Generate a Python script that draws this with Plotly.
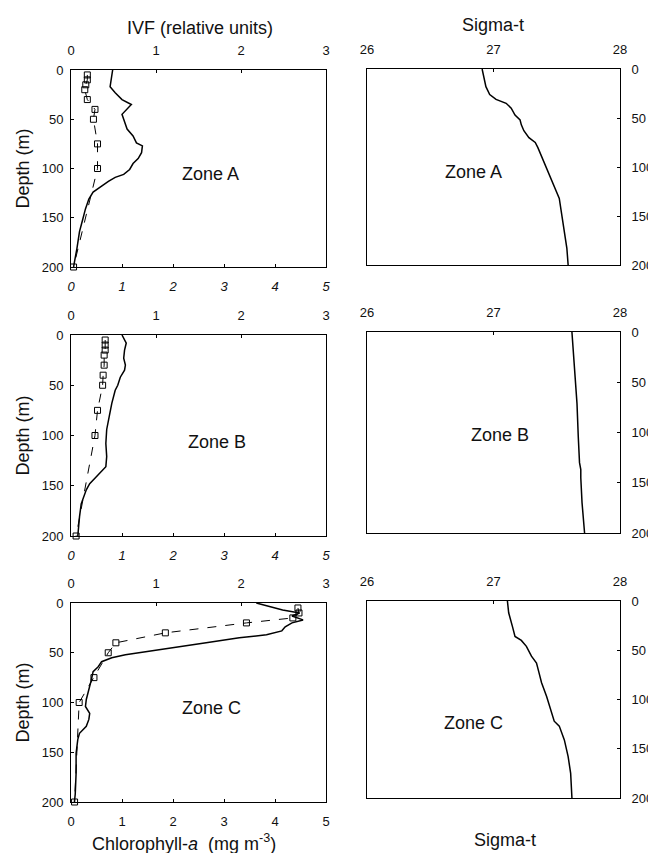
import plotly.graph_objects as go

# page is rendered with an 8px body margin; figure sized to reach the window edges
OFF = 8
W, H = 648, 845

# ---------------- data ----------------
# IVF profiles (relative units) vs depth (m)
ivf_a_depth = [0, 8, 17, 23, 30, 35, 40, 45, 50, 60, 67, 74, 77, 84, 90, 95, 101, 106, 109, 113, 118, 124, 131, 141, 151, 164, 181, 200]
ivf_a = [0.49, 0.48, 0.46, 0.52, 0.60, 0.71, 0.66, 0.60, 0.62, 0.66, 0.73, 0.77, 0.84, 0.83, 0.79, 0.73, 0.69, 0.62, 0.52, 0.44, 0.36, 0.26, 0.21, 0.17, 0.14, 0.10, 0.07, 0.03]

ivf_b_depth = [0, 8, 15, 23, 30, 35, 42, 50, 55, 61, 68, 81, 94, 108, 121, 131, 138, 148, 154, 168, 181, 194, 200]
ivf_b = [0.60, 0.65, 0.63, 0.62, 0.64, 0.63, 0.58, 0.55, 0.52, 0.50, 0.48, 0.45, 0.42, 0.41, 0.42, 0.41, 0.33, 0.22, 0.18, 0.12, 0.10, 0.09, 0.08]

ivf_c_depth = [0, 3, 7, 10, 13, 17, 20, 24, 28, 32, 35, 40, 45, 49, 52, 55, 59, 64, 69, 77, 87, 97, 104, 111, 117, 124, 131, 137, 151, 171, 192, 200]
ivf_c = [2.18, 2.30, 2.49, 2.69, 2.60, 2.73, 2.60, 2.52, 2.48, 2.30, 1.98, 1.59, 1.19, 0.91, 0.64, 0.48, 0.36, 0.32, 0.26, 0.24, 0.21, 0.18, 0.17, 0.22, 0.21, 0.18, 0.10, 0.08, 0.06, 0.06, 0.05, 0.04]

# Chlorophyll-a (mg m-3) at bottle depths
chl_depth = [5, 10, 15, 20, 30, 40, 50, 75, 100, 200]
chl_a = [0.32, 0.32, 0.29, 0.27, 0.32, 0.47, 0.44, 0.52, 0.52, 0.05]
chl_b = [0.67, 0.67, 0.67, 0.65, 0.65, 0.63, 0.62, 0.52, 0.47, 0.10]
chl_c = [4.45, 4.47, 4.35, 3.44, 1.85, 0.88, 0.73, 0.45, 0.16, 0.07]

# Sigma-t profiles
sig_a_depth = [0, 7, 18, 26, 31, 35, 40, 47, 52, 57, 63, 70, 75, 80, 92, 105, 119, 132, 149, 166, 183, 200]
sig_a = [26.91, 26.92, 26.94, 26.97, 27.02, 27.10, 27.14, 27.17, 27.21, 27.22, 27.24, 27.28, 27.33, 27.35, 27.39, 27.43, 27.48, 27.52, 27.54, 27.56, 27.58, 27.59]

sig_b_depth = [0, 38, 71, 104, 130, 137, 145, 170, 200]
sig_b = [27.62, 27.64, 27.66, 27.67, 27.68, 27.69, 27.69, 27.70, 27.72]

sig_c_depth = [0, 12, 26, 36, 40, 46, 56, 63, 73, 83, 97, 110, 122, 127, 141, 158, 175, 200]
sig_c = [27.11, 27.12, 27.15, 27.17, 27.22, 27.26, 27.30, 27.34, 27.36, 27.38, 27.42, 27.45, 27.48, 27.52, 27.56, 27.59, 27.61, 27.62]

zones = ["Zone A", "Zone B", "Zone C"]
depth_ticks = [0, 50, 100, 150, 200]
ivf_ticks = [0, 1, 2, 3]
chl_ticks = [0, 1, 2, 3, 4, 5]
sig_ticks = [26, 27, 28]

# ---------------- layout helpers ----------------
FONT = "Liberation Sans, Arial, sans-serif"
TICKF = dict(family=FONT, size=13, color="#111")
TXT = 18


def fx(p):
    return (p - OFF) / W


def fy(p):
    return 1 - (p - OFF) / H


left_x = [71, 326]
right_x = [367, 620]
left_rows = [(70, 267), (335, 536), (603, 802)]
right_rows = [(69, 265), (332, 533), (601, 798)]

fig = go.Figure()
layout = {}

ivf_sets = [(ivf_a_depth, ivf_a), (ivf_b_depth, ivf_b), (ivf_c_depth, ivf_c)]
chl_sets = [chl_a, chl_b, chl_c]
sig_sets = [(sig_a_depth, sig_a), (sig_b_depth, sig_b), (sig_c_depth, sig_c)]

line_common = dict(showline=True, linecolor="black", linewidth=1, showgrid=False,
                   zeroline=False, ticks="inside", ticklen=3, tickcolor="black",
                   automargin=False)


def xn(i):
    return "xaxis" if i == 1 else f"xaxis{i}"


def yn(i):
    return "yaxis" if i == 1 else f"yaxis{i}"


def xr(i):
    return "x" if i == 1 else f"x{i}"


def yr(i):
    return "y" if i == 1 else f"y{i}"


def note(px, py, text, size=TXT, angle=0):
    fig.add_annotation(x=fx(px), y=fy(py), xref="paper", yref="paper", text=text,
                       showarrow=False, xanchor="center", yanchor="middle",
                       textangle=angle,
                       font=dict(family=FONT, size=size, color="#111"))


xi = 1
yi = 1
for r in range(3):
    # --- left panel ---
    xa_ivf = xi
    xa_chl = xi + 1
    ya_l = yi
    top, bot = left_rows[r]
    ydom = [fy(bot), fy(top)]
    xdom = [fx(left_x[0]), fx(left_x[1])]

    layout[xn(xa_ivf)] = dict(domain=xdom, anchor=yr(ya_l), side="top", range=[0, 3],
                              tickvals=ivf_ticks, ticklabelstandoff=9, tickfont=TICKF,
                              **line_common)
    chl_font = dict(TICKF)
    if r < 2:
        chl_font["style"] = "italic"
    layout[xn(xa_chl)] = dict(domain=xdom, anchor=yr(ya_l), side="bottom", range=[0, 5],
                              overlaying=xr(xa_ivf), tickvals=chl_ticks,
                              ticklabelstandoff=7, tickfont=chl_font, **line_common)
    layout[yn(ya_l)] = dict(domain=ydom, anchor=xr(xa_ivf), side="left", range=[200, 0],
                            tickvals=depth_ticks, mirror=True, ticklabelstandoff=4,
                            tickfont=TICKF, **line_common)

    d, v = ivf_sets[r]
    fig.add_trace(go.Scatter(x=v, y=d, xaxis=xr(xa_ivf), yaxis=yr(ya_l), mode="lines",
                             line=dict(color="black", width=1.5), showlegend=False))
    fig.add_trace(go.Scatter(x=chl_sets[r], y=chl_depth, xaxis=xr(xa_chl), yaxis=yr(ya_l),
                             mode="lines+markers", cliponaxis=False,
                             line=dict(color="black", width=1, dash="dash"),
                             marker=dict(symbol="square-open", size=6, color="black",
                                         line=dict(width=1, color="black")),
                             showlegend=False))
    note([210, 217, 211][r], [174, 442, 708][r], zones[r])
    note(22, (top + bot) / 2, "Depth (m)", angle=-90)

    # --- right panel ---
    xa_sig = xi + 2
    ya_r = yi + 1
    top, bot = right_rows[r]
    ydom = [fy(bot), fy(top)]
    xdom = [fx(right_x[0]), fx(right_x[1])]
    layout[xn(xa_sig)] = dict(domain=xdom, anchor=yr(ya_r), side="top", range=[26, 28],
                              tickvals=sig_ticks, mirror=True, ticklabelstandoff=9,
                              tickfont=TICKF, **line_common)
    layout[yn(ya_r)] = dict(domain=ydom, anchor=xr(xa_sig), side="right", range=[200, 0],
                            tickvals=depth_ticks, mirror=True, ticklabelstandoff=8,
                            tickfont=TICKF, **line_common)
    d, v = sig_sets[r]
    fig.add_trace(go.Scatter(x=v, y=d, xaxis=xr(xa_sig), yaxis=yr(ya_r), mode="lines",
                             line=dict(color="black", width=1.5), showlegend=False))
    note([473, 500, 473][r], [172, 435, 723][r], zones[r])

    xi += 3
    yi += 2

note(200, 28, "IVF (relative units)")
note(493, 25, "Sigma-t")
note(505, 840, "Sigma-t")
note(184, 842, "Chlorophyll-<i>a</i>&nbsp;&nbsp;(mg m<sup>-3</sup>)")

fig.update_layout(template="none", width=W, height=H,
                  margin=dict(l=0, r=0, t=0, b=0, pad=0),
                  paper_bgcolor="white", plot_bgcolor="white", **layout)

fig.write_html("out.html")
